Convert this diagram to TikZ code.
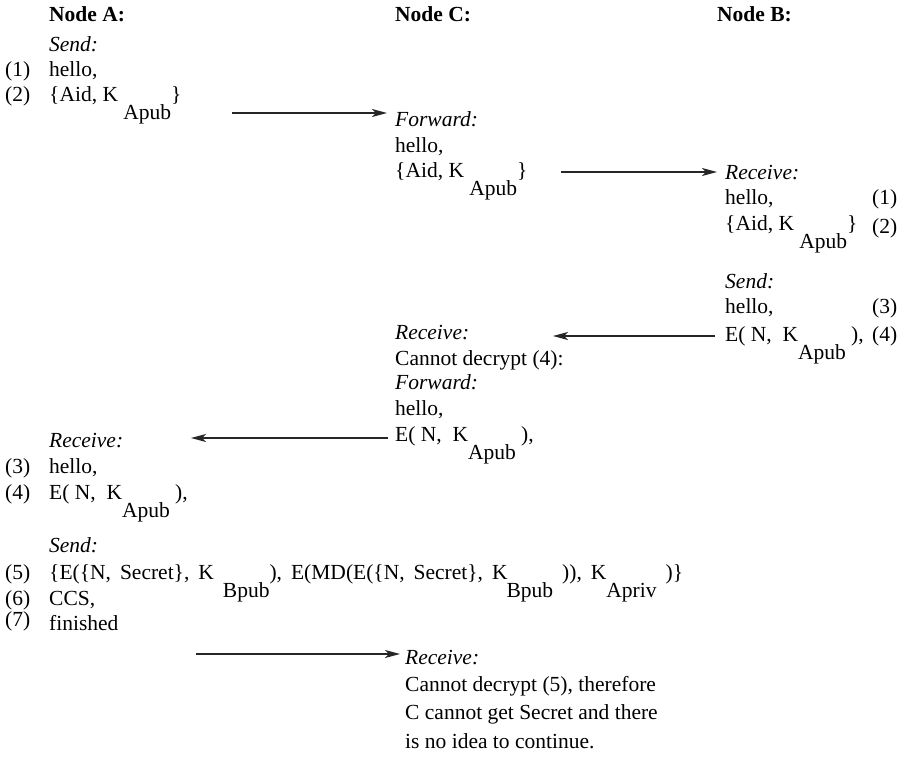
\documentclass[tikz,border=0pt]{standalone}
\usepackage{fontspec}
\setmainfont{Liberation Serif}
\usetikzlibrary{arrows.meta}
\newcommand{\lowered}[1]{\raisebox{-18pt}{#1}}
\begin{document}
\begin{tikzpicture}[x=1pt,y=-1pt,
  txt/.style={anchor=base west,inner sep=0pt,font=\fontsize{21.5}{25}\selectfont},
  head/.style={txt,font=\fontsize{21.5}{25}\selectfont\bfseries},
  lbl/.style={txt,font=\fontsize{21.5}{25}\selectfont\itshape},
  msg/.style={draw=black!85,line width=1.1pt,-{Stealth[length=15pt,width=8pt,inset=4pt]}}]
\useasboundingbox (0,0) rectangle (898,766);

% column headings
\node[head] (hA) at (49,21) {Node A:};
\node[head] (hC) at (395,21) {Node C:};
\node[head] (hB) at (717,21) {Node B:};

% Node A: first message
\node[lbl] (a1) at (49,51) {Send:};
\node[txt] (n1) at (5,76) {(1)};
\node[txt] (a2) at (49,76) {hello,};
\node[txt] (n2) at (5,101) {(2)};
\node[txt] (a3) at (49,101) {\{Aid, K\ \lowered{Apub}\}};

% Node C forwards it
\node[lbl] (c1) at (395,126) {Forward:};
\node[txt] (c2) at (395,152) {hello,};
\node[txt] (c3) at (395,177) {\{Aid, K\ \lowered{Apub}\}};

% Node B receives
\node[lbl] (b1) at (725,179) {Receive:};
\node[txt] (b2) at (725,204) {hello,};
\node[txt] (bn1) at (872,204) {(1)};
\node[txt] (b3) at (725,230) {\{Aid, K\ \lowered{Apub}\}};
\node[txt] (bn2) at (872,233) {(2)};

% Node B answers
\node[lbl] (b4) at (725,288) {Send:};
\node[txt] (b5) at (725,313) {hello,};
\node[txt] (bn3) at (872,313) {(3)};
\node[txt] (b6) at (725,341) {E( N,\ \ K\lowered{Apub}\ ),};
\node[txt] (bn4) at (872,341) {(4)};

% Node C cannot read the reply
\node[lbl] (c4) at (395,339) {Receive:};
\node[txt] (c5) at (395,365) {Cannot decrypt (4):};
\node[lbl] (c6) at (395,389) {Forward:};
\node[txt] (c7) at (395,415) {hello,};
\node[txt] (c8) at (395,441) {E( N,\ \ K\lowered{Apub}\ ),};

% Node A receives the reply
\node[lbl] (a4) at (49,447) {Receive:};
\node[txt] (n3) at (5,473) {(3)};
\node[txt] (a5) at (49,473) {hello,};
\node[txt] (n4) at (5,499) {(4)};
\node[txt] (a6) at (49,499) {E( N,\ \ K\lowered{Apub}\ ),};

% Node A sends the secret
\node[lbl] (a7) at (49,552) {Send:};
\node[txt] (n5) at (5,579) {(5)};
\node[txt] (a8) at (49,579) {\spaceskip=9pt\{E(\{N, Secret\}, K \lowered{Bpub}), E(MD(E(\{N, Secret\}, K\kern-1pt\lowered{Bpub} )), K\lowered{Apriv} )\}};
\node[txt] (n6) at (5,605) {(6)};
\node[txt] (a9) at (49,605) {CCS,};
\node[txt] (n7) at (5,626) {(7)};
\node[txt] (a10) at (49,630) {finished};

% Node C gives up
\node[lbl] (c9) at (405,664) {Receive:};
\node[txt] (c10) at (405,691) {Cannot decrypt (5), therefore};
\node[txt] (c11) at (405,719) {C cannot get Secret and there};
\node[txt] (c12) at (405,748) {is no idea to continue.};

% message arrows
\coordinate (m1s) at (232,113); \coordinate (m1e) at (387,113);
\coordinate (m2s) at (561,172); \coordinate (m2e) at (717,172);
\coordinate (m3s) at (715,336); \coordinate (m3e) at (553,336);
\coordinate (m4s) at (388,438); \coordinate (m4e) at (191,438);
\coordinate (m5s) at (196,654); \coordinate (m5e) at (400,654);
\draw[msg] (m1s) -- (m1e);
\draw[msg] (m2s) -- (m2e);
\draw[msg] (m3s) -- (m3e);
\draw[msg] (m4s) -- (m4e);
\draw[msg] (m5s) -- (m5e);
\end{tikzpicture}
\end{document}
